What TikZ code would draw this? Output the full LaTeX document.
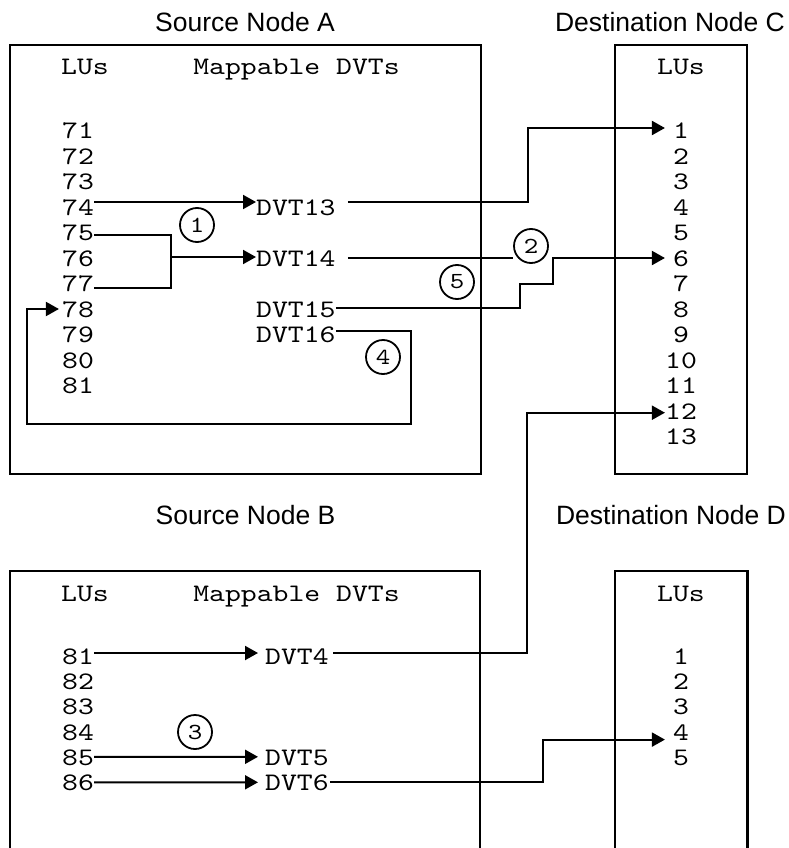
\documentclass[tikz,border=0pt]{standalone}
\usepackage{fontspec}
\usetikzlibrary{arrows.meta,calc}
\newfontfamily\lsans{Liberation Sans}
\newfontfamily\cmono{lmmono10-regular.otf}[FakeStretch=1.2]
\newcommand\monofnt[1]{\cmono\fontsize{#1}{#1}\selectfont}
\tikzset{
  x=1pt,y=1pt,
  mono/.style={font=\monofnt{25.2}, inner sep=0pt, text height=15pt, text depth=0pt},
  lu/.style={mono, anchor=base},
  dvt/.style={mono, anchor=base west},
  hdr/.style={font=\monofnt{25.2}, inner sep=0pt, anchor=base},
  title/.style={font=\lsans\fontsize{26.5}{26.5}\selectfont, inner sep=0pt},
  boxline/.style={draw, line width=2.2pt},
  conn/.style={line width=2pt},
  arr/.style={conn, -{Triangle[length=13pt,width=14pt]}},
  circ/.style={circle, draw, line width=1.8pt, minimum size=34pt, inner sep=0pt, font=\monofnt{23}}
}
\begin{document}
\begin{tikzpicture}
\useasboundingbox (0,0) rectangle (788,-848);
% titles
\node[title] (tA) at (245,-22) {Source Node A};
\node[title] (tC) at (670,-22) {Destination Node C};
\node[title] (tB) at (245.5,-515) {Source Node B};
\node[title] (tD) at (671,-515) {Destination Node D};
% boxes
\node[boxline, inner sep=0pt, minimum width=471pt, minimum height=429pt] (boxA) at (245.5,-259.5) {};
\node[boxline, inner sep=0pt, minimum width=132pt, minimum height=429pt] (boxC) at (681,-259.5) {};
\draw[boxline] (10,-848) |- (480,-571) -- (480,-848);
\draw[boxline] (615,-848) |- (747.5,-571) -- (747.5,-848);
% headers
\node[hdr] (hA1) at (85,-75) {LUs};
\node[hdr] (hA2) at (296.5,-75) {Mappable DVTs};
\node[hdr] (hC) at (681,-75) {LUs};
\node[hdr] (hB1) at (85,-601) {LUs};
\node[hdr] (hB2) at (296.5,-601) {Mappable DVTs};
\node[hdr] (hD) at (681,-601) {LUs};
% LU rows
\foreach \v [count=\i from 0] in {71,...,81}
  \node[lu] (al\v) at (78,{-138.5-25.5*\i}) {\v};
\foreach \v [count=\i from 0] in {1,...,13}
  \node[lu] (cl\v) at (681,{-138.5-25.5*\i}) {\v};
\foreach \v [count=\i from 0] in {81,...,86}
  \node[lu] (bl\v) at (78,{-664.5-25.2*\i}) {\v};
\foreach \v [count=\i from 0] in {1,...,5}
  \node[lu] (dl\v) at (681,{-664.5-25.2*\i}) {\v};
% DVTs
\node[dvt] (dvt13) at (256,-215) {DVT13};
\node[dvt] (dvt14) at (256,-266) {DVT14};
\node[dvt] (dvt15) at (256,-317) {DVT15};
\node[dvt] (dvt16) at (256,-342.5) {DVT16};
\node[dvt] (dvt4) at (265,-664.5) {DVT4};
\node[dvt] (dvt5) at (265,-765.3) {DVT5};
\node[dvt] (dvt6) at (265,-790.5) {DVT6};
% circled numbers
\node[circ] (c1) at (197,-225) {1};
\node[circ] (c2) at (531,-246) {2};
\node[circ] (c3) at (195,-732) {3};
\node[circ] (c4) at (383,-357) {4};
\node[circ] (c5) at (457,-282) {5};
% connectors in A
\draw[arr] ([yshift=5.5pt]al74.east) -- ([yshift=5.5pt]dvt13.west);
\draw[conn] ([yshift=-2pt]al75.east) -- ++(77,0) |- ([yshift=-4pt]al77.east);
\draw[arr] ([yshift=1.5pt]al76.east) ++(77,0) -- ([yshift=1.5pt]dvt14.west);
\draw[arr] ([xshift=12pt,yshift=5.5pt]dvt13.east) -- ++(180,0) |- ($(cl1.west -| cl12.west)+(0,3)$);
\draw[conn] ([xshift=12pt,yshift=0.5pt]dvt14.east) -- ($(dvt14.east -| c2.west)+(0,0.5)$);
\draw[arr] ([yshift=1.5pt]dvt15.east) -- ++(184.5,0) -- ++(0,24) -- ++(33,0) |- ($(cl6.west -| cl12.west)+(0,0.5)$);
\draw[arr] ([yshift=4pt]dvt16.east) -- ++(75,0) -- ++(0,-93) -| ([xshift=-35pt,yshift=0.5pt]al78.west) -- ([xshift=-3pt,yshift=0.5pt]al78.west);
% connectors in B
\draw[arr] ([yshift=4pt]bl81.east) -- ([xshift=-7pt,yshift=4pt]dvt4.west);
\draw[arr] ([yshift=1pt]bl85.east) -- ([xshift=-7pt,yshift=1pt]dvt5.west);
\draw[arr] ([yshift=0.7pt]bl86.east) -- ([xshift=-7pt,yshift=0.7pt]dvt6.west);
\draw[arr] ([xshift=4.5pt,yshift=4pt]dvt4.east) -- ++(194,0) |- ($(cl12.west)+(0,-1.2)$);
\draw[arr] ([xshift=1.5pt,yshift=0.7pt]dvt6.east) -- ++(213,0) |- ($(dl4.west -| cl12.west)+(0,-7)$);
\end{tikzpicture}
\end{document}
